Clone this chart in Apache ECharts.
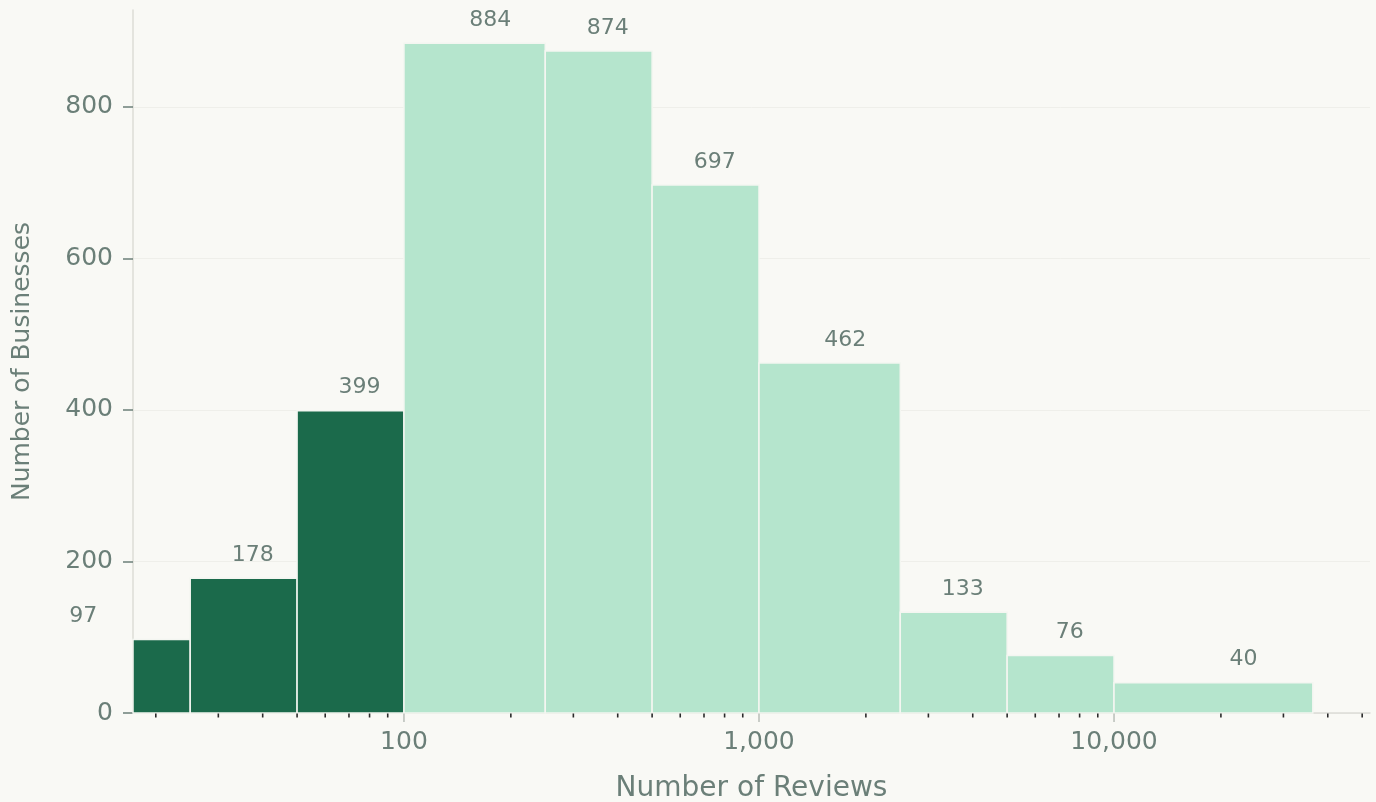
<!DOCTYPE html>
<html>
<head>
<meta charset="utf-8">
<script src="https://cdn.jsdelivr.net/npm/echarts@6/dist/echarts.min.js"></script>
<style>
  html, body { margin: 0; padding: 0; background: #f9f9f5; }
  #chart { width: 1376px; height: 802px; }
</style>
</head>
<body>
<div id="chart"></div>
<script>
// Histogram of businesses by review count: bin edges and counts per bin
const binEdges = [0, 25, 50, 100, 250, 500, 1000, 2500, 5000, 10000, 36300];
const binCounts = [97, 178, 399, 884, 874, 697, 462, 133, 76, 40];
// bins whose upper edge is at or below this many reviews are shown dark
const highlightBelow = 100;

// axis ticks
const xTickValues = [100, 1000, 10000];
const xMinorTickValues = [
  20, 30, 40, 50, 60, 70, 80, 90,
  200, 300, 400, 500, 600, 700, 800, 900,
  2000, 3000, 4000, 5000, 6000, 7000, 8000, 9000,
  20000, 30000, 40000, 50000
];
const yTickValues = [0, 200, 400, 600, 800];
const xRange = [17.25, 52600];
const yRange = [0, 928];

const FONT = '"DejaVu Sans", "Noto Sans", sans-serif';
const TEXT = '#6b7f78';
const DARK = '#1b6a4b';
const LIGHT = '#b5e5cd';
const AXIS = '#dcdcd6';

const binData = binCounts.map((c, i) => [binEdges[i], binEdges[i + 1], c]);

function renderBin(params, api) {
  const lo = api.value(0), hi = api.value(1), n = api.value(2);
  const base = api.coord([Math.max(lo, xRange[0]), 0]);
  const top = api.coord([hi, n]);
  const mid = api.coord([(lo + hi) / 2, n]);
  return {
    type: 'group',
    children: [
      {
        type: 'rect',
        shape: { x: base[0], y: top[1], width: top[0] - base[0], height: base[1] - top[1] },
        style: { fill: hi <= highlightBelow ? DARK : LIGHT, stroke: '#f4f6f1', lineWidth: 1.5 }
      },
      {
        type: 'text',
        x: mid[0],
        y: mid[1] - 23,
        style: {
          text: String(n), fill: TEXT, font: '22px ' + FONT,
          align: 'center', verticalAlign: 'middle'
        }
      }
    ]
  };
}

function tickRenderer(len, color) {
  return function (params, api) {
    const p = api.coord([api.value(0), 0]);
    return {
      type: 'line',
      shape: { x1: p[0], y1: p[1] + 0.5, x2: p[0], y2: p[1] + len },
      style: { stroke: color, lineWidth: 1.6 }
    };
  };
}

function isPowerOfTen(v) {
  const l = Math.log10(v);
  return Math.abs(l - Math.round(l)) < 1e-6;
}

const chart = echarts.init(document.getElementById('chart'));
chart.setOption({
  backgroundColor: '#f9f9f5',
  animation: false,
  grid: { left: 133, right: 6, top: 10, bottom: 89, outerBoundsMode: 'none' },
  xAxis: {
    type: 'log',
    logBase: 10,
    min: xRange[0],
    max: xRange[1],
    name: 'Number of Reviews',
    nameLocation: 'middle',
    nameGap: 62,
    nameTextStyle: { color: TEXT, fontSize: 28, fontFamily: FONT },
    axisLine: { show: true, lineStyle: { color: AXIS, width: 1.5 } },
    axisTick: { show: false },
    axisLabel: {
      color: TEXT, fontSize: 25, fontFamily: FONT, margin: 17,
      showMinLabel: false, showMaxLabel: false,
      formatter: v => isPowerOfTen(v) ? Math.round(v).toLocaleString('en-US') : ''
    },
    splitLine: { show: false }
  },
  yAxis: {
    type: 'value',
    min: yRange[0],
    max: yRange[1],
    interval: 200,
    name: 'Number of Businesses',
    nameLocation: 'middle',
    nameGap: 98,
    nameTextStyle: { color: TEXT, fontSize: 25, fontFamily: FONT },
    axisLine: { show: true, lineStyle: { color: AXIS, width: 1.5 } },
    axisTick: { show: true, length: 10, customValues: yTickValues, lineStyle: { color: TEXT, width: 1.5 } },
    axisLabel: {
      color: TEXT, fontSize: 25, fontFamily: FONT, margin: 20,
      customValues: yTickValues
    },
    splitLine: { show: true, lineStyle: { color: '#efefea', width: 1 } }
  },
  series: [
    {
      type: 'custom',
      name: 'bins',
      renderItem: renderBin,
      encode: { x: [0, 1], y: 2 },
      data: binData,
      z: 2
    },
    {
      type: 'custom',
      name: 'major ticks',
      renderItem: tickRenderer(9, '#bdc2bc'),
      encode: { x: 0, y: 1 },
      data: xTickValues.map(v => [v, 0]),
      silent: true,
      z: 3
    },
    {
      type: 'custom',
      name: 'minor ticks',
      renderItem: tickRenderer(4.5, '#2a2a2a'),
      encode: { x: 0, y: 1 },
      data: xMinorTickValues.map(v => [v, 0]),
      silent: true,
      z: 3
    }
  ]
});
</script>
</body>
</html>
